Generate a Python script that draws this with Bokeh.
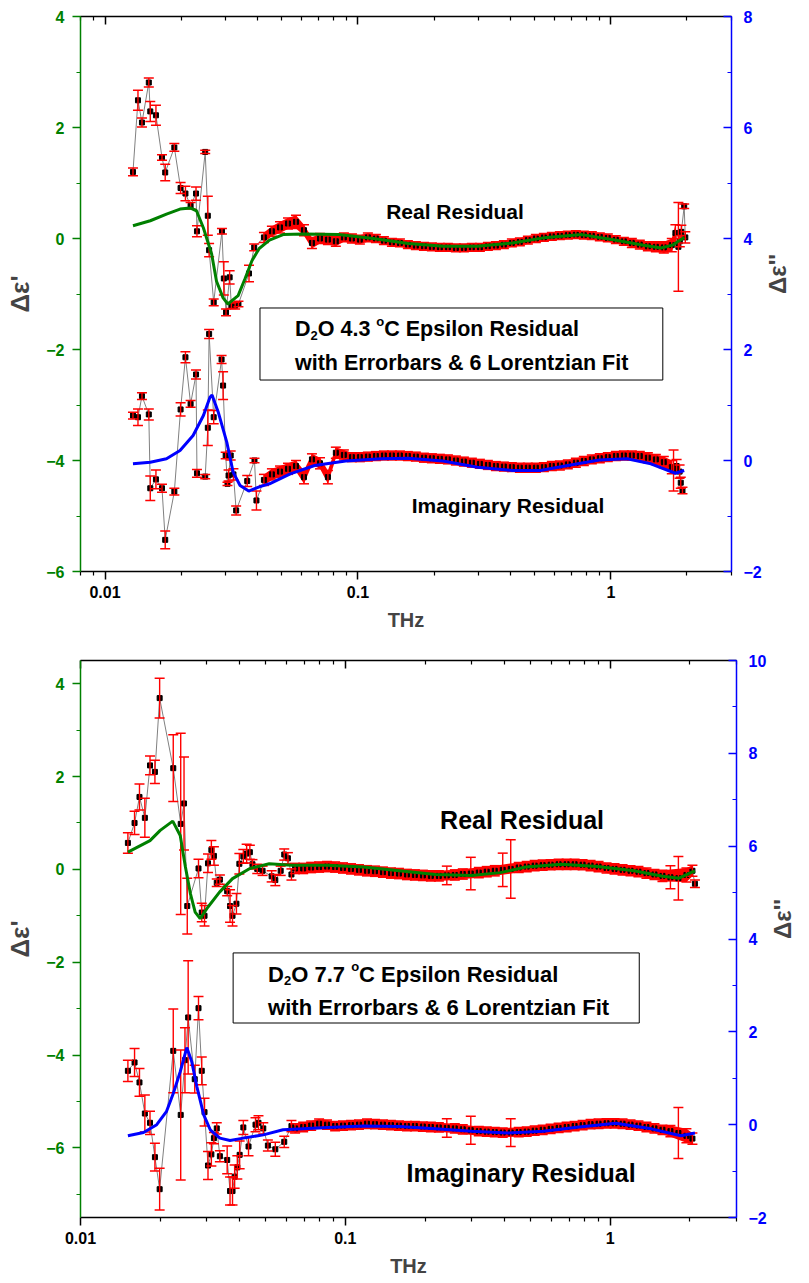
import math
from bokeh.plotting import figure
from bokeh.models import (Range1d, LinearAxis, LogAxis, FixedTicker, SingleIntervalTicker,
                          CustomJSTickFormatter, Label, BoxAnnotation)
from bokeh.layouts import column
from bokeh.embed import file_html
from bokeh.resources import INLINE

FONT = "Liberation Sans"
GREEN = "#008000"
BLUE = "#0000FF"
RED = "#FF0000"
GRAY = "#808080"

# ======================= D2O 4.3 °C =======================
# real residual (left axis): frequency (THz), value, error
t43_re_f = [0.0129, 0.0135, 0.0140, 0.0149, 0.0151, 0.0159, 0.0168, 0.0173, 0.0188, 0.0199,
            0.0208, 0.0218, 0.0229, 0.0231, 0.0249, 0.0255, 0.0258, 0.0269, 0.0290, 0.0295,
            0.0301, 0.0311, 0.0316, 0.0327, 0.0337, 0.0371, 0.0389,
            0.0425, 0.0457, 0.0492, 0.0529, 0.0569, 0.0612, 0.0658, 0.0708, 0.0761, 0.0818,
            0.0880, 0.0947, 0.1018, 0.1095, 0.1178, 0.1267, 0.1363, 0.1466, 0.1576, 0.1695,
            0.1824, 0.1961, 0.2109, 0.2269, 0.2440, 0.2624, 0.2822, 0.3036, 0.3265, 0.3512,
            0.3777, 0.4062, 0.4369, 0.4699, 0.5054, 0.5436, 0.5846, 0.6288, 0.6761, 0.7273,
            0.7822, 0.8413, 0.9048, 0.9730, 1.047, 1.126, 1.211, 1.302, 1.401, 1.507,
            1.620, 1.742, 1.80, 1.85, 1.874, 1.90, 1.95, 1.97]
t43_re_v = [1.20, 2.49, 2.09, 2.81, 2.29, 2.22, 1.46, 1.19, 1.64, 0.91,
            0.81, 0.59, 0.81, 0.13, 1.56, 0.41, -0.21, -1.15, 0.13, -0.72,
            -1.33, -0.70, -1.21, -1.21, -1.18, -0.63, -0.16,
            0.02, 0.13, 0.20, 0.27, 0.30, 0.15, -0.08, 0.00, -0.02, -0.05,
            0.02, 0.00, -0.02, 0.02, 0.00, -0.04, -0.07, -0.08, -0.11, -0.13,
            -0.14, -0.15, -0.16, -0.16, -0.17, -0.17, -0.16, -0.16, -0.14, -0.13,
            -0.11, -0.08, -0.06, -0.03, 0.00, 0.02, 0.04, 0.05, 0.06, 0.07,
            0.06, 0.05, 0.03, 0.01, -0.02, -0.05, -0.08, -0.11, -0.14, -0.15,
            -0.16, -0.12, 0.10, -0.15, -0.05, 0.12, 0.58, 0.02]
t43_re_e = [0.07, 0.18, 0.08, 0.08, 0.18, 0.18, 0.05, 0.15, 0.07, 0.10,
            0.13, 0.06, 0.12, 0.10, 0.03, 0.35, 0.12, 0.06, 0.05, 0.30,
            0.06, 0.12, 0.05, 0.06, 0.05, 0.15, 0.06,
            0.09, 0.09, 0.10, 0.10, 0.12, 0.10, 0.10, 0.09, 0.09, 0.09,
            0.08, 0.08, 0.08, 0.08, 0.07, 0.07, 0.07, 0.07, 0.07, 0.07,
            0.07, 0.07, 0.07, 0.07, 0.07, 0.07, 0.07, 0.07, 0.07, 0.07,
            0.07, 0.07, 0.07, 0.07, 0.07, 0.07, 0.07, 0.07, 0.07, 0.07,
            0.07, 0.07, 0.07, 0.07, 0.07, 0.07, 0.08, 0.08, 0.08, 0.09,
            0.10, 0.12, 0.15, 0.80, 0.10, 0.12, 0.04, 0.10]

# imaginary residual (right axis)
t43_im_f = [0.0129, 0.0135, 0.0140, 0.0149, 0.0151, 0.0159, 0.0168, 0.0173, 0.0188, 0.0199,
            0.0208, 0.0218, 0.0229, 0.0231, 0.0249, 0.0255, 0.0258, 0.0269, 0.0289, 0.0293,
            0.0300, 0.0305, 0.0308, 0.0314, 0.0322, 0.0330, 0.0365, 0.0390, 0.0397,
            0.0425, 0.0457, 0.0492, 0.0529, 0.0569, 0.0612, 0.0658, 0.0708, 0.0761, 0.0818,
            0.0880, 0.0947, 0.1018, 0.1095, 0.1178, 0.1267, 0.1363, 0.1466, 0.1576, 0.1695,
            0.1824, 0.1961, 0.2109, 0.2269, 0.2440, 0.2624, 0.2822, 0.3036, 0.3265, 0.3512,
            0.3777, 0.4062, 0.4369, 0.4699, 0.5054, 0.5436, 0.5846, 0.6288, 0.6761, 0.7273,
            0.7822, 0.8413, 0.9048, 0.9730, 1.047, 1.126, 1.211, 1.302, 1.401, 1.507,
            1.620, 1.742, 1.77, 1.82, 1.87, 1.89, 1.92]
t43_im_v = [0.81, 0.78, 1.16, 0.83, -0.50, -0.34, -0.50, -1.43, -0.56, 0.92,
            1.86, 1.02, 1.55, -0.23, -0.29, 0.59, 2.28, 0.78, 1.82, 1.35,
            0.09, -0.42, -0.27, 0.09, -0.25, -0.90, -0.37, 0.00, -0.72,
            -0.35, -0.25, -0.20, -0.15, -0.10, -0.30, 0.02, -0.05, -0.30, 0.14,
            0.10, 0.06, 0.06, 0.07, 0.08, 0.09, 0.09, 0.09, 0.08, 0.07,
            0.05, 0.04, 0.03, 0.02, 0.00, -0.02, -0.04, -0.06, -0.08, -0.10,
            -0.11, -0.12, -0.13, -0.13, -0.13, -0.12, -0.10, -0.09, -0.07, -0.04,
            -0.01, 0.02, 0.04, 0.06, 0.08, 0.09, 0.09, 0.08, 0.05, 0.02,
            -0.03, -0.12, -0.18, -0.10, -0.20, -0.40, -0.54]
t43_im_e = [0.06, 0.15, 0.06, 0.10, 0.22, 0.17, 0.07, 0.16, 0.06, 0.12,
            0.10, 0.06, 0.08, 0.07, 0.04, 0.32, 0.08, 0.12, 0.07, 0.25,
            0.06, 0.03, 0.10, 0.08, 0.10, 0.08, 0.10, 0.04, 0.17,
            0.10, 0.10, 0.10, 0.10, 0.10, 0.12, 0.10, 0.10, 0.12, 0.10,
            0.09, 0.08, 0.08, 0.08, 0.08, 0.08, 0.08, 0.08, 0.08, 0.08,
            0.08, 0.08, 0.08, 0.08, 0.08, 0.08, 0.08, 0.08, 0.08, 0.08,
            0.08, 0.08, 0.08, 0.08, 0.08, 0.08, 0.08, 0.08, 0.08, 0.08,
            0.08, 0.08, 0.08, 0.08, 0.08, 0.08, 0.08, 0.08, 0.09, 0.09,
            0.10, 0.12, 0.37, 0.12, 0.12, 0.10, 0.06]

# 6-Lorentzian fit curves
t43_refit_f = [0.0129, 0.0151, 0.0175, 0.0198, 0.0217, 0.0230, 0.0245, 0.0264, 0.0276, 0.0293,
               0.0306, 0.0336, 0.0358, 0.0381, 0.0407, 0.0447, 0.0506, 0.0612, 0.0840, 0.115,
               0.158, 0.217, 0.297, 0.408, 0.558, 0.768, 1.05, 1.35, 1.58, 1.75, 1.95]
t43_refit_v = [0.23, 0.32, 0.44, 0.53, 0.55, 0.50, 0.19, -0.28, -0.77, -1.07,
               -1.18, -1.03, -0.72, -0.40, -0.18, -0.03, 0.07, 0.08, 0.07, 0.00,
               -0.09, -0.14, -0.14, -0.08, 0.02, 0.07, -0.03, -0.12, -0.17, -0.12, 0.02]
t43_imfit_f = [0.0129, 0.0151, 0.0175, 0.0198, 0.0223, 0.0245, 0.0260, 0.0265, 0.0280, 0.0303,
               0.0321, 0.0342, 0.0370, 0.0410, 0.0447, 0.0540, 0.0674, 0.0894, 0.123, 0.158,
               0.217, 0.297, 0.408, 0.526, 0.676, 0.899, 1.16, 1.44, 1.80, 1.95]
t43_imfit_v = [-0.06, -0.03, 0.03, 0.18, 0.45, 0.81, 1.14, 1.18, 0.88, 0.33,
               -0.21, -0.45, -0.55, -0.47, -0.42, -0.24, -0.09, -0.01, 0.03, 0.04,
               -0.01, -0.12, -0.18, -0.18, -0.09, 0.01, 0.03, -0.06, -0.23, -0.18]

# ======================= D2O 7.7 °C =======================
t77_re_f = [0.0151, 0.0160, 0.0167, 0.0175, 0.0183, 0.0191, 0.0199, 0.0224, 0.0239, 0.0246,
            0.0253, 0.0279, 0.0287, 0.0294, 0.0303, 0.0312, 0.0319, 0.0327, 0.0336, 0.0358,
            0.0367, 0.0375, 0.0388, 0.0398, 0.0412, 0.0424, 0.0436, 0.0446, 0.0465, 0.0487,
            0.0527, 0.0544, 0.0570, 0.0588, 0.0607, 0.0626,
            0.0646, 0.0693, 0.0743, 0.0796, 0.0853, 0.0915, 0.0980, 0.1051, 0.1126, 0.1207,
            0.1294, 0.1387, 0.1487, 0.1594, 0.1709, 0.1831, 0.1963, 0.2104, 0.2255, 0.2417,
            0.2591, 0.2777, 0.2977, 0.3192, 0.3420, 0.3667, 0.3930, 0.4213, 0.4516, 0.4841,
            0.5188, 0.5562, 0.5961, 0.6390, 0.6850, 0.7342, 0.7870, 0.8436, 0.9042, 0.9692,
            1.039, 1.114, 1.194, 1.279, 1.371, 1.470, 1.576, 1.689, 1.810, 1.941,
            2.045, 2.09]
t77_re_v = [0.57, 1.00, 1.56, 1.11, 2.24, 2.10, 3.69, 2.18, 0.98, 1.42,
            -0.79, 0.02, -0.93, -1.00, 0.13, 0.42, 0.29, -0.29, -0.22, -0.47,
            -0.79, -1.00, -0.74, 0.12, 0.28, 0.34, 0.37, 0.11, 0.01, -0.03,
            -0.15, -0.23, -0.03, 0.32, 0.24, -0.11,
            0.02, 0.02, 0.04, 0.05, 0.06, 0.05, 0.03, 0.01, -0.01, -0.03,
            -0.04, -0.06, -0.08, -0.09, -0.11, -0.12, -0.13, -0.14, -0.14, -0.13,
            -0.12, -0.10, -0.09, -0.07, -0.05, -0.03, -0.01, 0.01, 0.04, 0.06,
            0.08, 0.09, 0.10, 0.11, 0.11, 0.11, 0.10, 0.08, 0.06, 0.03,
            0.01, -0.01, -0.03, -0.05, -0.08, -0.11, -0.14, -0.17, -0.19, -0.12,
            -0.03, -0.31]
t77_re_e = [0.22, 0.25, 0.28, 0.42, 0.20, 0.25, 0.43, 0.72, 1.95, 1.00,
            0.60, 0.20, 0.20, 0.22, 0.20, 0.20, 0.20, 0.08, 0.10, 0.10,
            0.35, 0.22, 0.22, 0.22, 0.15, 0.20, 0.15, 0.10, 0.10, 0.10,
            0.12, 0.12, 0.10, 0.12, 0.12, 0.12,
            0.11, 0.11, 0.11, 0.11, 0.11, 0.11, 0.11, 0.11, 0.11, 0.11,
            0.11, 0.11, 0.11, 0.11, 0.11, 0.11, 0.11, 0.11, 0.11, 0.20,
            0.11, 0.11, 0.35, 0.11, 0.11, 0.11, 0.36, 0.63, 0.11, 0.11,
            0.11, 0.11, 0.11, 0.11, 0.11, 0.11, 0.11, 0.11, 0.11, 0.11,
            0.11, 0.11, 0.11, 0.11, 0.11, 0.11, 0.12, 0.25, 0.47, 0.15,
            0.12, 0.08]

t77_im_f = [0.0151, 0.0160, 0.0167, 0.0175, 0.0183, 0.0191, 0.0199, 0.0224, 0.0239, 0.0248,
            0.0255, 0.0270, 0.0279, 0.0287, 0.0294, 0.0303, 0.0312, 0.0319, 0.0327, 0.0336,
            0.0358, 0.0367, 0.0375, 0.0382, 0.0391, 0.0399, 0.0412, 0.0431, 0.0458, 0.0470,
            0.0490, 0.0510, 0.0544, 0.0588, 0.0626,
            0.0646, 0.0693, 0.0743, 0.0796, 0.0853, 0.0915, 0.0980, 0.1051, 0.1126, 0.1207,
            0.1294, 0.1387, 0.1487, 0.1594, 0.1709, 0.1831, 0.1963, 0.2104, 0.2255, 0.2417,
            0.2591, 0.2777, 0.2977, 0.3192, 0.3420, 0.3667, 0.3930, 0.4213, 0.4516, 0.4841,
            0.5188, 0.5562, 0.5961, 0.6390, 0.6850, 0.7342, 0.7870, 0.8436, 0.9042, 0.9692,
            1.039, 1.114, 1.194, 1.279, 1.371, 1.470, 1.576, 1.689, 1.810, 1.941,
            2.045]
t77_im_v = [1.16, 1.34, 0.91, 0.24, 0.04, -0.70, -1.39, 1.59, 0.21, 1.39,
            2.31, 0.98, 2.51, 1.16, 0.27, -0.88, -0.64, -0.29, -0.08, -0.68,
            -0.76, -1.43, -1.43, -1.12, -0.92, -0.65, -0.06, -0.47, 0.00, 0.04,
            -0.08, -0.45, -0.53, -0.37, -0.03,
            -0.08, -0.05, -0.02, 0.02, 0.00, -0.03, -0.02, -0.01, 0.00, 0.02,
            0.01, 0.00, -0.01, -0.02, -0.03, -0.03, -0.04, -0.05, -0.06, -0.07,
            -0.08, -0.10, -0.12, -0.14, -0.15, -0.16, -0.17, -0.17, -0.16, -0.15,
            -0.13, -0.11, -0.09, -0.07, -0.05, -0.03, -0.01, 0.01, 0.02, 0.03,
            0.03, 0.02, 0.00, -0.02, -0.05, -0.08, -0.11, -0.14, -0.18, -0.24,
            -0.30]
t77_im_e = [0.23, 0.30, 0.30, 0.40, 0.25, 0.30, 0.45, 0.90, 1.40, 0.70,
            1.22, 0.30, 0.25, 0.30, 0.30, 0.30, 0.25, 0.12, 0.12, 0.12,
            0.30, 0.30, 0.30, 0.25, 0.25, 0.30, 0.15, 0.20, 0.15, 0.15,
            0.12, 0.12, 0.15, 0.12, 0.12,
            0.10, 0.10, 0.10, 0.10, 0.10, 0.10, 0.10, 0.10, 0.10, 0.10,
            0.10, 0.10, 0.10, 0.10, 0.10, 0.10, 0.10, 0.10, 0.10, 0.20,
            0.10, 0.10, 0.30, 0.10, 0.10, 0.10, 0.10, 0.30, 0.10, 0.10,
            0.10, 0.10, 0.10, 0.10, 0.10, 0.10, 0.10, 0.10, 0.10, 0.10,
            0.10, 0.10, 0.10, 0.10, 0.10, 0.10, 0.10, 0.12, 0.55, 0.15,
            0.12]

t77_refit_f = [0.0151, 0.0183, 0.0200, 0.0223, 0.0238, 0.0249, 0.0260, 0.0271, 0.0283, 0.0303,
               0.0335, 0.0375, 0.0436, 0.0516, 0.0626, 0.0856, 0.117, 0.160, 0.219, 0.300,
               0.385, 0.480, 0.656, 0.897, 1.23, 1.58, 1.82, 2.09]
t77_refit_v = [0.37, 0.62, 0.84, 1.04, 0.73, 0.05, -0.52, -0.92, -1.06, -0.81,
               -0.49, -0.20, 0.02, 0.12, 0.09, 0.09, 0.05, -0.03, -0.11, -0.13,
               -0.07, 0.05, 0.11, 0.06, -0.03, -0.15, -0.19, -0.03]
t77_imfit_f = [0.0151, 0.0173, 0.0194, 0.0211, 0.0224, 0.0238, 0.0252, 0.0263, 0.0275, 0.0292,
               0.0309, 0.0336, 0.0367, 0.0412, 0.0490, 0.0582, 0.0856, 0.117, 0.160, 0.219,
               0.300, 0.410, 0.559, 0.764, 1.05, 1.43, 1.85, 2.09]
t77_imfit_v = [-0.24, -0.17, 0.00, 0.28, 0.67, 1.14, 1.66, 1.36, 0.82, 0.21,
               -0.11, -0.29, -0.34, -0.29, -0.22, -0.11, -0.06, -0.03, -0.04, -0.09,
               -0.14, -0.18, -0.14, -0.05, 0.03, -0.09, -0.24, -0.18]

MAJOR_X = [0.01, 0.1, 1]

# bold sans advance widths (em) used to lay out the composite caption
ADV = {"D": 0.722, "O": 0.778, " ": 0.278, ".": 0.278, "o": 0.611}
LIFT = 8  # raise annotation text slightly above its anchor (px)


def adv(s):
    return sum(ADV.get(ch, 0.556) for ch in s)


def style_ticks(ax, color, out_major, out_minor, in_major, in_minor):
    ax.axis_line_color = color
    ax.axis_line_width = 1.5
    ax.major_tick_line_color = color
    ax.minor_tick_line_color = color
    ax.major_tick_line_width = 1.5
    ax.minor_tick_line_width = 1.2
    ax.major_tick_out = out_major
    ax.minor_tick_out = out_minor
    ax.major_tick_in = in_major
    ax.minor_tick_in = in_minor


def style_labels(ax, color, size="16px"):
    ax.major_label_text_color = color
    ax.major_label_text_font = FONT
    ax.major_label_text_font_style = "bold"
    ax.major_label_text_font_size = size


def make_panel(frame_w, frame_h, x_lo, x_hi, y_left, y_right, borders):
    top, bottom, left, right = borders
    p = figure(frame_width=frame_w, frame_height=frame_h, x_axis_type="log",
               x_range=Range1d(x_lo, x_hi), y_range=Range1d(*y_left),
               output_backend="svg", toolbar_location=None,
               min_border_top=top, min_border_bottom=bottom,
               min_border_left=left, min_border_right=right)
    p.extra_y_ranges = {"im": Range1d(*y_right)}
    p.grid.visible = False
    p.outline_line_color = None
    p.background_fill_color = "white"
    p.border_fill_color = "white"

    minor = [m * d for d in (0.001, 0.01, 0.1, 1.0) for m in range(2, 10)
             if x_lo <= m * d <= x_hi]

    xa = p.xaxis[0]
    xa.ticker = FixedTicker(ticks=MAJOR_X, minor_ticks=minor)
    xa.formatter = CustomJSTickFormatter(code="return String(tick)")
    style_ticks(xa, "black", 8, 4, 0, 0)
    style_labels(xa, "black")
    xa.major_label_standoff = 6
    xa.axis_label = "THz"
    xa.axis_label_text_font = FONT
    xa.axis_label_text_font_style = "bold"
    xa.axis_label_text_font_size = "20px"
    xa.axis_label_standoff = 8

    # mirrored top axis: ticks only
    ta = LogAxis(ticker=FixedTicker(ticks=MAJOR_X, minor_ticks=minor),
                 formatter=CustomJSTickFormatter(code="return ''"))
    style_ticks(ta, "black", 0, 0, 8, 4)
    ta.major_label_text_font_size = "1px"
    ta.major_label_text_color = None
    ta.major_label_standoff = 0
    p.add_layout(ta, "above")

    ya = p.yaxis[0]
    ya.ticker = SingleIntervalTicker(interval=2, num_minor_ticks=2)
    style_ticks(ya, GREEN, 8, 4, 0, 0)
    style_labels(ya, GREEN)
    ya.major_label_standoff = 8
    ya.axis_label = "\u0394\u03b5'"
    ya.axis_label_text_font = FONT
    ya.axis_label_text_font_style = "bold"
    ya.axis_label_text_font_size = "26px"
    ya.axis_label_standoff = 8

    ra = LinearAxis(y_range_name="im",
                    ticker=SingleIntervalTicker(interval=2, num_minor_ticks=2))
    style_ticks(ra, BLUE, 0, 0, 8, 4)
    style_labels(ra, BLUE)
    ra.major_label_standoff = 12
    ra.axis_label = "\u0394\u03b5''"
    ra.axis_label_text_font = FONT
    ra.axis_label_text_font_style = "bold"
    ra.axis_label_text_font_size = "24px"
    ra.axis_label_standoff = 13
    if "axis_label_orientation" in ra.properties():
        ra.axis_label_orientation = math.pi / 2
    p.add_layout(ra, "right")
    return p


def draw_series(p, f, v, e, dense_span, rng="default"):
    lo = [a - b for a, b in zip(v, e)]
    hi = [a + b for a, b in zip(v, e)]
    p.line(f, v, line_color=GRAY, line_width=1, y_range_name=rng)
    # where the points crowd together their error bars merge into a solid band
    f0, f1 = dense_span
    keep = [i for i, (x, err) in enumerate(zip(f, e)) if f0 <= x <= f1 and err <= 0.15]
    p.varea(x=[f[i] for i in keep], y1=[lo[i] for i in keep], y2=[hi[i] for i in keep],
            fill_color=RED, y_range_name=rng)
    p.scatter(f, v, marker="square", size=5, fill_color="black", line_color="black",
              y_range_name=rng)
    p.segment(x0=f, y0=lo, x1=f, y1=hi, line_color=RED, line_width=1.4, y_range_name=rng)
    p.scatter(f + f, lo + hi, marker="dash", size=10, line_color=RED, line_width=1.5,
              y_range_name=rng)


def text(p, x, y, s, size, dy=0, **kw):
    opts = dict(text_font=FONT, text_font_style="bold", text_color="black",
                text_font_size=f"{size}px", text_baseline="alphabetic",
                y_offset=LIFT + dy)
    opts.update(kw)
    p.add_layout(Label(x=x, y=y, text=s, **opts))


def box_caption(p, x, y1, y2, temp, size, small=13):
    xo = 0.0
    text(p, x, y1, "D", size)
    xo += adv("D") * size
    text(p, x, y1, "2", small, dy=-6, x_offset=xo)
    xo += adv("2") * small
    text(p, x, y1, "O " + temp, size, x_offset=xo)
    xo += adv("O " + temp + " ") * size
    text(p, x, y1, "o", small, dy=8, x_offset=xo)
    xo += adv("o") * small
    text(p, x, y1, "C Epsilon Residual", size, x_offset=xo)
    text(p, x, y2, "with Errorbars & 6 Lorentzian Fit", size)


def frame_box(p, left, right, top, bottom):
    p.add_layout(BoxAnnotation(left=left, right=right, top=top, bottom=bottom,
                               fill_color=None, line_color="black", line_alpha=1.0,
                               line_width=1))


# ---- upper panel: 4.3 °C ----
p1 = make_panel(651, 555, 0.008, 3.0, (-6, 4), (-2, 8), (16, 69, 80, 78))
draw_series(p1, t43_re_f, t43_re_v, t43_re_e, (0.042, 1.80))
draw_series(p1, t43_im_f, t43_im_v, t43_im_e, (0.042, 1.75), "im")
p1.line(t43_refit_f, t43_refit_v, line_color=GREEN, line_width=3)
p1.line(t43_imfit_f, t43_imfit_v, line_color=BLUE, line_width=3, y_range_name="im")
text(p1, 0.242, 0.346, "Real Residual", 21, text_align="center")
text(p1, 0.392, -4.95, "Imaginary Residual", 21, text_align="center")
frame_box(p1, 0.0410, 1.605, -1.252, -2.55)
box_caption(p1, 0.0564, -1.775, -2.39, "4.3", 21.5)

# ---- lower panel: 7.7 °C ----
p2 = make_panel(656, 557, 0.01, 3.0, (-7.5, 4.5), (-2, 10), (20, 66, 77, 76))
draw_series(p2, t77_re_f, t77_re_v, t77_re_e, (0.064, 2.05))
draw_series(p2, t77_im_f, t77_im_v, t77_im_e, (0.064, 2.05), "im")
p2.line(t77_refit_f, t77_refit_v, line_color=GREEN, line_width=3)
p2.line(t77_imfit_f, t77_imfit_v, line_color=BLUE, line_width=3, y_range_name="im")
text(p2, 0.465, 0.90, "Real Residual", 25, text_align="center")
text(p2, 0.461, -6.72, "Imaginary Residual", 25, text_align="center")
frame_box(p2, 0.0377, 1.288, -1.80, -3.31)
box_caption(p2, 0.0511, -2.43, -3.15, "7.7", 22)

layout = column(p1, p2, spacing=0)
with open("out.html", "w") as fh:
    fh.write(file_html(layout, INLINE))
